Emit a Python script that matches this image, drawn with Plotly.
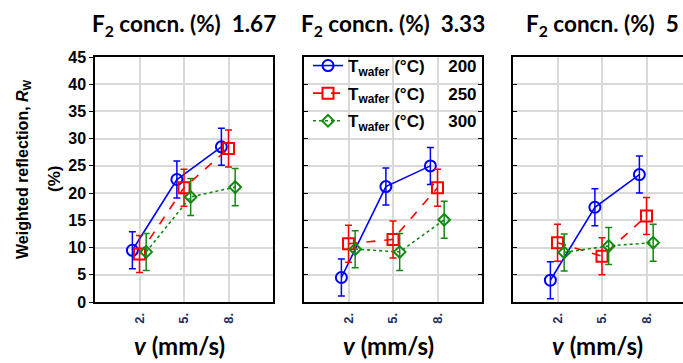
import plotly.graph_objects as go

# speeds (mm/s) and their tick labels
speeds = [2, 5, 8]
speed_labels = ["2.", "5.", "8."]

# F2 concentrations (%) for the three panels
f2_concn = ["1.67", "3.33", "5"]

# wafer temperatures (°C)
t_wafer = [200, 250, 300]

# weighted reflection R_W (%) per panel, one list per wafer temperature
rw_200 = [[9.5, 22.5, 28.5], [4.5, 21.2, 25.0], [4.0, 17.4, 23.4]]
rw_250 = [[8.8, 21.0, 28.2], [10.7, 11.5, 21.0], [10.9, 8.4, 15.8]]
rw_300 = [[9.2, 19.3, 21.1], [9.7, 9.2, 15.1], [9.1, 10.3, 10.9]]

# error-bar half widths (%)
err_200 = [[3.4, 3.4, 3.4], [3.4, 3.4, 3.4], [3.4, 3.4, 3.4]]
err_250 = [[3.4, 3.4, 3.4], [3.4, 3.4, 3.4], [3.4, 3.4, 3.4]]
err_300 = [[3.4, 3.4, 3.4], [3.4, 3.4, 3.4], [3.4, 3.4, 3.4]]

W, H = 683, 363
series = [
    (t_wafer[0], rw_200, err_200, "#0000ff", "solid", "circle-open", 11, -0.16),
    (t_wafer[1], rw_250, err_250, "#ff0000", "dash", "square-open", 11, 0.0),
    (t_wafer[2], rw_300, err_300, "#128a12", "dot", "diamond-open", 9, 0.15),
]

# panel placement in pixels (left, right); last panel runs off the page edge
panels_px = [(95, 273), (304, 482), (513, 691)]
y_bottom, y_top = 302, 57

fig = go.Figure()

for p, (x0, x1) in enumerate(panels_px):
    ax = "" if p == 0 else str(p + 1)
    for (temp, vals, errs, color, dash, symbol, msize, shift) in series:
        fig.add_trace(go.Scatter(
            x=[i + 1 + shift for i in range(len(speeds))],
            y=vals[p],
            error_y=dict(type="data", array=errs[p], visible=True,
                         color=color, thickness=1.5, width=3.5),
            mode="lines+markers",
            line=dict(color=color, width=1.6, dash=dash),
            marker=dict(symbol=symbol, size=msize, color=color,
                        line=dict(color=color, width=2)),
            name="T<sub>wafer</sub> (°C)" + "\u00a0" * 5 + str(temp),
            legendgroup=str(temp),
            showlegend=(p == 0),
            xaxis="x" + ax, yaxis="y" + ax,
        ))

layout = dict(
    width=W, height=H,
    margin=dict(l=0, r=0, t=0, b=0, pad=0, autoexpand=False),
    paper_bgcolor="white", plot_bgcolor="white",
    showlegend=True,
    legend=dict(
        x=308 / W, y=1 - 48 / H, xanchor="left", yanchor="top",
        bgcolor="rgba(0,0,0,0)", borderwidth=0,
        font=dict(family="Liberation Sans", size=17, color="black", weight="bold"),
        traceorder="grouped", tracegroupgap=2.5, itemsizing="trace",
    ),
)

ydom = [(H - y_bottom) / H, (H - y_top) / H]
for p, (x0, x1) in enumerate(panels_px):
    sfx = "" if p == 0 else str(p + 1)
    visible_right = min(x1, W)
    xrange_max = 4 * (visible_right - x0) / (x1 - x0)
    layout["xaxis" + sfx] = dict(
        domain=[x0 / W, visible_right / W], range=[0, xrange_max],
        anchor="y" + sfx,
        tickmode="array", tickvals=[1, 2, 3], ticktext=speed_labels,
        tickangle=-90, ticks="", ticklabelstandoff=4,
        tickfont=dict(family="Liberation Sans", size=13, color="#1c2d5c", weight="bold"),
        showgrid=True, gridcolor="#d9d9d9", gridwidth=1.5,
        showline=True, linecolor="black", linewidth=1.5, mirror=True,
        zeroline=False, fixedrange=True, automargin=False,
    )
    layout["yaxis" + sfx] = dict(
        domain=ydom, range=[0, 45], anchor="x" + sfx,
        tickmode="linear", tick0=0, dtick=5,
        showticklabels=(p == 0),
        ticks="outside" if p == 0 else "inside", ticklen=4, tickcolor="black",
        tickfont=dict(family="Liberation Sans", size=16, color="black", weight="bold"),
        showgrid=True, gridcolor="#d9d9d9", gridwidth=1.5,
        showline=True, linecolor="black", linewidth=1.5,
        mirror={0: True, 1: "ticks", 2: False}[p],
        zeroline=False, fixedrange=True, automargin=False,
    )

# inward ticks on the right edge of the first panel
layout["yaxis4"] = dict(
    overlaying="y", side="right", anchor="x", range=[0, 45],
    tickmode="linear", tick0=0, dtick=5, ticks="inside", ticklen=4,
    tickcolor="black", showticklabels=False, showgrid=False,
    showline=False, zeroline=False, fixedrange=True, automargin=False,
)

annotations = []
for p, (x0, x1) in enumerate(panels_px):
    cx = (x0 + x1) / 2 / W
    annotations.append(dict(
        text="F<sub>2</sub> concn. (%)\u00a0\u00a0" + f2_concn[p],
        xref="paper", yref="paper", x=cx, y=1 - 25 / H,
        xanchor="center", yanchor="middle", showarrow=False,
        font=dict(family="Lato", size=22.5, color="black", weight="bold"),
    ))
    annotations.append(dict(
        text="<i>v</i> (mm/s)",
        xref="paper", yref="paper", x=cx, y=1 - 345 / H, xshift=-5,
        xanchor="center", yanchor="middle", showarrow=False,
        font=dict(family="Lato", size=24, color="black", weight="bold"),
    ))

# y-axis title, two lines
annotations.append(dict(
    text="Weighted reflection, <i>R</i><sub>W</sub>",
    xref="paper", yref="paper", x=24 / W, y=1 - 169 / H,
    xanchor="center", yanchor="middle", textangle=-90, showarrow=False,
    font=dict(family="Liberation Sans", size=16, color="black", weight="bold"),
))
annotations.append(dict(
    text="(%)",
    xref="paper", yref="paper", x=54 / W, y=1 - 179 / H,
    xanchor="center", yanchor="middle", textangle=-90, showarrow=False,
    font=dict(family="Liberation Sans", size=17, color="black", weight="bold"),
))
layout["annotations"] = annotations

fig.update_layout(**layout)
fig.write_html("out.html")
